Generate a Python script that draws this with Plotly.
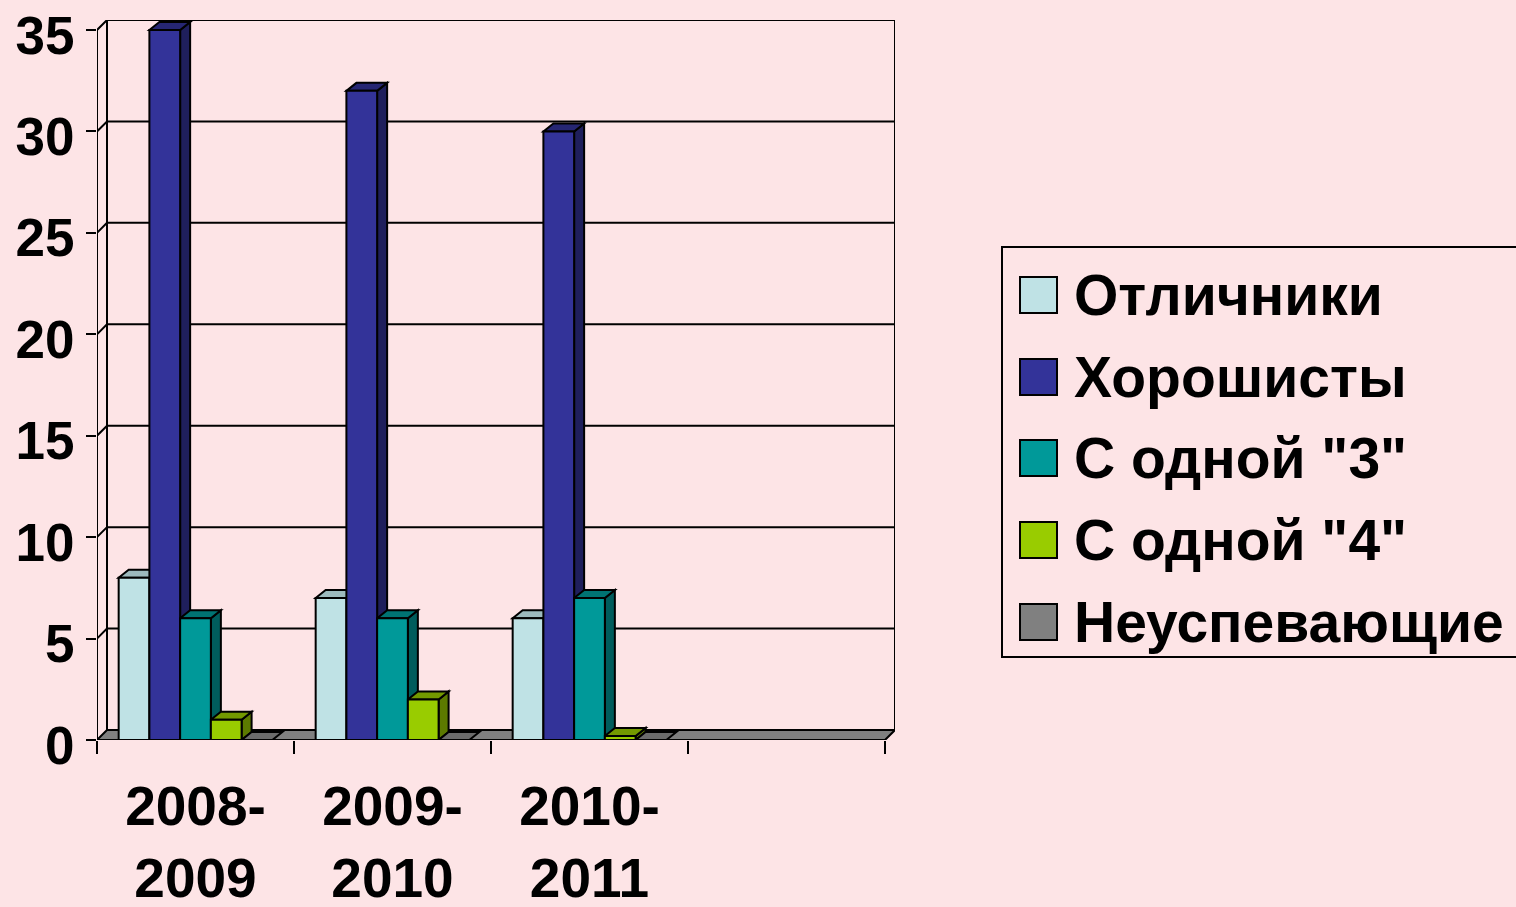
import plotly.graph_objects as go

# ---- data ----
categories = ["2008-<br>2009", "2009-<br>2010", "2010-<br>2011"]
series_names = ["Отличники", "Хорошисты", "С одной \"3\"", "С одной \"4\"", "Неуспевающие"]
otlichniki = [8, 7, 6]
khoroshisty = [35, 32, 30]
s_odnoy_3 = [6, 6, 7]
s_odnoy_4 = [1, 2, 0.2]
neuspevayushchie = [0, 0, 0]
y_ticks = [0, 5, 10, 15, 20, 25, 30, 35]
n_slots = 4  # the chart shows an empty fourth category slot

# ---- styles ----
front_colors = ["#BFE2E5", "#333399", "#009999", "#99CC00", "#808080"]
side_colors = ["#8FAAAD", "#1F1F5C", "#005C5C", "#5C7A00", "#4D4D4D"]
top_colors = ["#9DBABD", "#262673", "#007373", "#739900", "#6B6B6B"]
BG = "#FDE4E6"
FONT = "Liberation Sans, Arial, sans-serif"

W, H = 1516, 907
L, R, T, B = 97, 895, 20, 740          # plot area in pixels
WALL_DX, WALL_DY = 10, 10               # 3-D wall depth (px)
BAR_DX, BAR_DY = 10, 8                  # 3-D bar depth (px)
YMAX = y_ticks[-1]
BARGAP = 0.22
XFONT = dict(family=FONT, size=55, color="black", weight="bold")
YFONT = dict(family=FONT, size=53, color="black", weight="bold")
LEGFONT = dict(family=FONT, size=57, color="black", weight="bold")

ppx = (R - L - WALL_DX) / n_slots
ppy = (B - T - WALL_DY) / YMAX
dxw, dyw = WALL_DX / ppx, WALL_DY / ppy
dxb, dyb = BAR_DX / ppx, BAR_DY / ppy
x_lo, x_hi = -0.5, n_slots - 0.5

values = [otlichniki, khoroshisty, s_odnoy_3, s_odnoy_4, neuspevayushchie]
xpos = list(range(len(categories)))

fig = go.Figure()
for name, vals, col in zip(series_names, values, front_colors):
    fig.add_trace(go.Bar(
        x=xpos, y=vals, name=name,
        marker=dict(color=col, line=dict(color="black", width=2)),
        showlegend=False, hoverinfo="name+y",
    ))

shapes = []
blk = dict(color="black", width=2)

def poly(pts):
    return "M " + " L ".join(f"{x},{y}" for x, y in pts) + " Z"

def pline(pts):
    return "M " + " L ".join(f"{x},{y}" for x, y in pts)

# floor
shapes.append(dict(type="path", xref="x", yref="y", layer="below",
                   path=poly([(x_lo, 0), (x_hi, 0), (x_hi + dxw, dyw), (x_lo + dxw, dyw)]),
                   fillcolor="#808080", line=blk))
# gridlines on the walls
for v in y_ticks[1:]:
    shapes.append(dict(type="path", xref="x", yref="y", layer="below",
                       path=pline([(x_lo, v), (x_lo + dxw, v + dyw), (x_hi + dxw, v + dyw)]),
                       line=blk))
# wall verticals and front axis
for xx in (x_lo + dxw, x_hi + dxw):
    shapes.append(dict(type="line", xref="x", yref="y", layer="below",
                       x0=xx, x1=xx, y0=dyw, y1=YMAX + dyw, line=blk))
shapes.append(dict(type="line", xref="x", yref="y", layer="below",
                   x0=x_lo, x1=x_lo, y0=0, y1=YMAX, line=blk))

# 3-D side and top faces of bars
nser = len(values)
bw = (1 - BARGAP) / nser
for j, vals in enumerate(values):
    for i, v in enumerate(vals):
        left = i - (1 - BARGAP) / 2 + j * bw
        right = left + bw
        if v > 0:
            shapes.append(dict(type="path", xref="x", yref="y", layer="below",
                               path=poly([(right, 0), (right + dxb, dyb), (right + dxb, v + dyb), (right, v)]),
                               fillcolor=side_colors[j], line=blk))
        shapes.append(dict(type="path", xref="x", yref="y", layer="below",
                           path=poly([(left, v), (left + dxb, v + dyb), (right + dxb, v + dyb), (right, v)]),
                           fillcolor=top_colors[j], line=blk))

# manual legend (paper coordinates derived from pixel layout)
def xp(px):
    return (px - L) / (R - L)

def yp(py):
    return (B - py) / (B - T)

shapes.append(dict(type="rect", xref="paper", yref="paper", layer="above",
                   x0=xp(1002), x1=xp(1530), y0=yp(657), y1=yp(247),
                   fillcolor="rgba(0,0,0,0)", line=blk))
annotations = []
leg_y = [295, 377, 458, 540, 622]
for name, col, cy in zip(series_names, front_colors, leg_y):
    shapes.append(dict(type="rect", xref="paper", yref="paper", layer="above",
                       x0=xp(1020), x1=xp(1057), y0=yp(cy + 18), y1=yp(cy - 18),
                       fillcolor=col, line=blk))
    annotations.append(dict(xref="paper", yref="paper", x=xp(1072), y=yp(cy),
                            xanchor="left", yanchor="middle", showarrow=False,
                            text=name, font=LEGFONT))

fig.update_layout(
    width=W, height=H,
    margin=dict(l=L, r=W - R, t=T, b=H - B, pad=0, autoexpand=False),
    paper_bgcolor=BG, plot_bgcolor=BG,
    barmode="group", bargap=BARGAP, bargroupgap=0,
    shapes=shapes, annotations=annotations,
    font=XFONT,
    xaxis=dict(range=[x_lo, x_hi + dxw], tickmode="array", tickvals=xpos, ticktext=categories,
               ticks="", showgrid=False, zeroline=False, showline=False,
               automargin=False, ticklabelstandoff=29,
               tickfont=XFONT,
               minor=dict(tickmode="array", tickvals=[k - 0.5 for k in range(n_slots + 1)],
                          ticks="outside", ticklen=13, tickwidth=2, tickcolor="black",
                          showgrid=False)),
    yaxis=dict(range=[0, YMAX + dyw], tickmode="array", tickvals=y_ticks,
               ticks="outside", ticklen=10, tickwidth=2, tickcolor="black",
               showgrid=False, zeroline=False, showline=False,
               automargin=False, ticklabelstandoff=1, ticklabelshift=5,
               ticklabeloverflow="allow",
               tickfont=YFONT),
)

fig.write_html("out.html", config={"displayModeBar": False},
               post_script="document.body.style.margin='0';document.body.style.overflow='hidden';")
